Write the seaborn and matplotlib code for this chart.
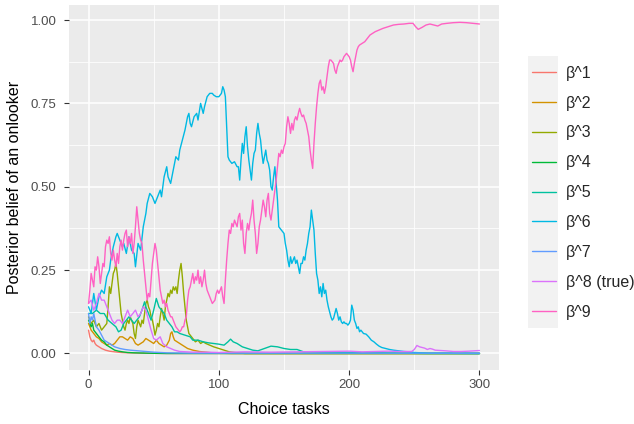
import matplotlib
matplotlib.use("Agg")
import matplotlib.pyplot as plt
from matplotlib.lines import Line2D
from matplotlib.patches import Rectangle
import pandas as pd
import seaborn as sns

# ---- data: posterior belief per candidate beta over choice tasks ----
labels = ["β^1", "β^2", "β^3", "β^4", "β^5", "β^6", "β^7", "β^8 (true)", "β^9"]
colors = ["#F8766D", "#D39200", "#93AA00", "#00BA38", "#00C19F",
          "#00B9E3", "#619CFF", "#DB72FB", "#FF61C3"]

b1_t = [0, 1, 2, 3, 4, 5, 6, 8, 10, 13, 16, 20, 25, 30, 40, 60, 300]
b1_v = [0.07, 0.05, 0.04, 0.035, 0.04, 0.03, 0.025, 0.02, 0.015, 0.01, 0.007,
        0.005, 0.003, 0.002, 0.001, 0.0, 0.0]

b2_t = [0, 2, 4, 6, 8, 10, 12, 14, 16, 18, 20, 22, 24, 26, 28, 30, 32, 34, 36,
        38, 40, 42, 44, 46, 48, 50, 52, 54, 56, 58, 60, 62, 63, 64, 65, 66, 68,
        70, 72, 74, 76, 80, 85, 90, 95, 100, 110, 300]
b2_v = [0.09, 0.07, 0.06, 0.05, 0.045, 0.035, 0.03, 0.025, 0.03, 0.025, 0.03,
        0.04, 0.05, 0.05, 0.045, 0.04, 0.05, 0.045, 0.03, 0.025, 0.03, 0.035,
        0.045, 0.04, 0.035, 0.03, 0.04, 0.03, 0.025, 0.02, 0.025, 0.04, 0.06,
        0.065, 0.05, 0.04, 0.035, 0.03, 0.025, 0.02, 0.015, 0.01, 0.006, 0.004,
        0.002, 0.001, 0.0, 0.0]

b3_t = [0, 2, 4, 6, 8, 10, 12, 14, 15, 16, 17, 18, 19, 20, 21, 22, 23, 24, 25,
        26, 27, 28, 29, 30, 31, 32, 33, 34, 35, 36, 37, 38, 39, 40, 41, 42, 43,
        44, 45, 46, 47, 48, 49, 50, 51, 52, 53, 54, 55, 56, 57, 58, 59, 60, 61,
        62, 63, 64, 65, 66, 67, 68, 69, 70, 71, 72, 73, 74, 75, 76, 77, 78, 80,
        82, 84, 86, 88, 90, 93, 96, 100, 104, 108, 112, 120, 300]
b3_v = [0.11, 0.09, 0.10, 0.08, 0.09, 0.07, 0.08, 0.09, 0.14, 0.20, 0.18, 0.21,
        0.24, 0.25, 0.27, 0.24, 0.20, 0.16, 0.12, 0.10, 0.08, 0.07, 0.09, 0.10,
        0.09, 0.11, 0.10, 0.09, 0.06, 0.045, 0.08, 0.10, 0.09, 0.08, 0.10, 0.09,
        0.12, 0.15, 0.16, 0.14, 0.13, 0.11, 0.10, 0.08, 0.055, 0.07, 0.09, 0.08,
        0.11, 0.135, 0.12, 0.10, 0.14, 0.16, 0.18, 0.17, 0.19, 0.18, 0.20, 0.19,
        0.20, 0.18, 0.22, 0.25, 0.27, 0.23, 0.18, 0.14, 0.10, 0.08, 0.06, 0.055,
        0.045, 0.035, 0.04, 0.03, 0.035, 0.03, 0.025, 0.02, 0.015, 0.01, 0.005,
        0.003, 0.0, 0.0]

b4_t = [0, 1, 2, 3, 4, 6, 8, 10, 12, 14, 16, 18, 20, 23, 26, 30, 35, 45, 60, 300]
b4_v = [0.10, 0.09, 0.08, 0.09, 0.07, 0.06, 0.05, 0.04, 0.035, 0.025, 0.02,
        0.015, 0.01, 0.007, 0.005, 0.003, 0.002, 0.001, 0.0, 0.0]

b5_t = [0, 3, 6, 9, 12, 15, 18, 21, 23, 25, 27, 29, 31, 33, 35, 37, 39, 41, 43,
        44, 46, 48, 50, 52, 54, 56, 58, 60, 62, 64, 66, 68, 70, 74, 78, 80, 84,
        88, 92, 96, 100, 104, 107, 109, 111, 114, 118, 122, 126, 130, 135, 140,
        145, 150, 155, 160, 165, 170, 180, 190, 200, 220, 240, 260, 300]
b5_v = [0.12, 0.12, 0.13, 0.12, 0.12, 0.10, 0.09, 0.08, 0.065, 0.07, 0.09, 0.10,
        0.11, 0.10, 0.09, 0.10, 0.11, 0.13, 0.155, 0.14, 0.12, 0.10, 0.13, 0.165,
        0.14, 0.13, 0.12, 0.10, 0.09, 0.08, 0.065, 0.065, 0.06, 0.055, 0.05,
        0.04, 0.04, 0.035, 0.032, 0.03, 0.028, 0.025, 0.035, 0.043, 0.035, 0.03,
        0.02, 0.015, 0.01, 0.008, 0.015, 0.022, 0.02, 0.015, 0.012, 0.012, 0.005,
        0.005, 0.004, 0.004, 0.003, 0.002, 0.001, 0.0, 0.0]

b6_t = [0, 2, 4, 6, 8, 10, 12, 14, 16, 17, 19, 21, 22, 24, 26, 27, 29, 31, 33,
        35, 36, 38, 40, 42, 44, 45, 47, 49, 51, 53, 55, 56, 58, 60, 61, 63, 65,
        67, 69, 70, 72, 74, 76, 77, 78, 79, 81, 83, 84, 86, 88, 89, 91, 93, 95,
        96, 98, 100, 102, 103, 104, 105, 106, 107, 108, 110, 112, 114, 115, 116,
        117, 118, 119, 120, 121, 122, 123, 124, 125, 126, 127, 128, 129, 130,
        131, 132, 133, 134, 135, 136, 137, 138, 139, 140, 141, 142, 143, 144,
        145, 146, 148, 150, 151, 152, 153, 154, 155, 156, 157, 158, 159, 160,
        161, 162, 163, 164, 165, 166, 167, 168, 169, 170, 171, 172, 173, 174,
        175, 176, 177, 178, 179, 180, 181, 182, 183, 184, 185, 186, 187, 188,
        189, 190, 191, 192, 193, 194, 195, 196, 197, 198, 199, 200, 201, 202,
        203, 204, 205, 206, 207, 208, 209, 211, 213, 215, 217, 219, 221, 223,
        225, 228, 231, 234, 238, 242, 246, 250, 255, 260, 300]
b6_v = [0.14, 0.12, 0.18, 0.13, 0.17, 0.19, 0.18, 0.23, 0.25, 0.28, 0.32, 0.35,
        0.36, 0.34, 0.32, 0.33, 0.30, 0.35, 0.31, 0.30, 0.26, 0.33, 0.31, 0.38,
        0.42, 0.45, 0.48, 0.47, 0.45, 0.47, 0.49, 0.47, 0.53, 0.56, 0.53, 0.51,
        0.55, 0.59, 0.58, 0.61, 0.64, 0.67, 0.71, 0.72, 0.69, 0.68, 0.71, 0.72,
        0.70, 0.75, 0.72, 0.74, 0.77, 0.78, 0.78, 0.775, 0.77, 0.77, 0.78, 0.80,
        0.79, 0.77, 0.68, 0.59, 0.58, 0.57, 0.575, 0.56, 0.56, 0.52, 0.58, 0.63,
        0.60, 0.65, 0.68, 0.62, 0.58, 0.55, 0.52, 0.57, 0.60, 0.61, 0.66, 0.69,
        0.66, 0.64, 0.60, 0.57, 0.59, 0.61, 0.58, 0.57, 0.55, 0.50, 0.49, 0.53,
        0.56, 0.51, 0.46, 0.38, 0.37, 0.36, 0.33, 0.31, 0.28, 0.26, 0.29, 0.27,
        0.28, 0.29, 0.27, 0.28, 0.26, 0.24, 0.27, 0.27, 0.29, 0.28, 0.31, 0.33,
        0.36, 0.38, 0.43, 0.40, 0.37, 0.30, 0.24, 0.22, 0.18, 0.20, 0.17, 0.21,
        0.18, 0.19, 0.16, 0.14, 0.125, 0.11, 0.10, 0.105, 0.12, 0.135, 0.12,
        0.10, 0.11, 0.095, 0.09, 0.095, 0.09, 0.09, 0.085, 0.09, 0.10, 0.145,
        0.13, 0.10, 0.09, 0.075, 0.08, 0.065, 0.07, 0.06, 0.058, 0.05, 0.04,
        0.035, 0.028, 0.022, 0.018, 0.015, 0.012, 0.01, 0.008, 0.006, 0.005,
        0.003, 0.002, 0.001, 0.0]

b7_t = [0, 1, 2, 3, 4, 5, 6, 8, 10, 12, 14, 16, 18, 20, 24, 28, 32, 38, 44, 50,
        60, 80, 300]
b7_v = [0.12, 0.09, 0.11, 0.10, 0.12, 0.10, 0.08, 0.07, 0.055, 0.04, 0.035,
        0.03, 0.025, 0.02, 0.015, 0.012, 0.01, 0.008, 0.006, 0.004, 0.002,
        0.001, 0.001]

b8_t = [0, 2, 4, 6, 8, 10, 12, 14, 16, 18, 20, 22, 24, 26, 28, 30, 32, 34, 36,
        38, 40, 42, 44, 46, 48, 50, 52, 55, 57, 60, 63, 66, 70, 80, 90, 100,
        110, 120, 140, 160, 180, 200, 210, 220, 230, 240, 248, 250, 252, 254,
        256, 258, 260, 262, 264, 266, 270, 274, 280, 286, 292, 296, 300]
b8_v = [0.15, 0.16, 0.13, 0.15, 0.18, 0.16, 0.16, 0.14, 0.12, 0.10, 0.09, 0.10,
        0.10, 0.09, 0.11, 0.13, 0.11, 0.12, 0.13, 0.11, 0.12, 0.14, 0.13, 0.10,
        0.07, 0.045, 0.04, 0.05, 0.03, 0.02, 0.015, 0.01, 0.006, 0.004, 0.004,
        0.003, 0.004, 0.005, 0.004, 0.005, 0.006, 0.007, 0.005, 0.006, 0.007,
        0.006, 0.006, 0.012, 0.024, 0.02, 0.018, 0.016, 0.012, 0.015, 0.013,
        0.01, 0.009, 0.008, 0.006, 0.006, 0.007, 0.008, 0.009]

b9_t = list(range(0, 209)) + [210, 212, 214, 216, 218, 220, 223, 226, 230,
                              234, 238, 242, 246, 249, 251, 253, 256, 259,
                              262, 265, 268, 271, 275, 280, 285, 290, 295, 300]
b9_v = [0.15, 0.19, 0.24, 0.22, 0.20, 0.26, 0.25, 0.29, 0.26, 0.21,
        0.24, 0.27, 0.26, 0.32, 0.34, 0.33, 0.35, 0.30, 0.28, 0.31,
        0.28, 0.26, 0.30, 0.27, 0.32, 0.34, 0.31, 0.34, 0.36, 0.37,
        0.32, 0.35, 0.33, 0.36, 0.30, 0.33, 0.38, 0.44, 0.40, 0.36,
        0.34, 0.33, 0.28, 0.24, 0.20, 0.16, 0.18, 0.17, 0.22, 0.27,
        0.30, 0.33, 0.31, 0.27, 0.23, 0.19, 0.17, 0.15, 0.16, 0.14,
        0.15, 0.13, 0.12, 0.11, 0.11, 0.10, 0.09, 0.08, 0.075, 0.07,
        0.065, 0.07, 0.08, 0.08, 0.10, 0.11, 0.16, 0.19, 0.20, 0.22,
        0.24, 0.21, 0.23, 0.22, 0.25, 0.21, 0.23, 0.20, 0.22, 0.25,
        0.21, 0.19, 0.18, 0.17, 0.16, 0.15, 0.155, 0.16, 0.18, 0.19,
        0.18, 0.19, 0.20, 0.17, 0.15, 0.22, 0.28, 0.33, 0.37, 0.36,
        0.39, 0.38, 0.40, 0.39, 0.38, 0.41, 0.42, 0.37, 0.40, 0.33,
        0.30, 0.36, 0.39, 0.37, 0.40, 0.42, 0.46, 0.40, 0.36, 0.30,
        0.33, 0.38, 0.40, 0.43, 0.46, 0.44, 0.41, 0.46, 0.48, 0.42,
        0.40, 0.43, 0.46, 0.49, 0.52, 0.56, 0.60, 0.59, 0.61, 0.60,
        0.62, 0.63, 0.68, 0.71, 0.69, 0.66, 0.69, 0.67, 0.70, 0.71,
        0.70, 0.72, 0.735, 0.72, 0.71, 0.715, 0.70, 0.69, 0.67, 0.65,
        0.61, 0.58, 0.555, 0.63, 0.69, 0.74, 0.78, 0.81, 0.82, 0.79,
        0.80, 0.78, 0.80, 0.83, 0.86, 0.88, 0.88, 0.875, 0.87, 0.85,
        0.84, 0.86, 0.87, 0.88, 0.875, 0.88, 0.89, 0.895, 0.90, 0.895,
        0.89, 0.88, 0.86, 0.845, 0.87, 0.89, 0.91, 0.92, 0.925,
        0.93, 0.935, 0.945, 0.955, 0.96, 0.965, 0.97, 0.975, 0.98,
        0.985, 0.987, 0.988, 0.99, 0.99, 0.98, 0.972, 0.978, 0.985,
        0.988, 0.985, 0.982, 0.988, 0.99, 0.992, 0.993, 0.992, 0.99, 0.988]

series_t = [b1_t, b2_t, b3_t, b4_t, b5_t, b6_t, b7_t, b8_t, b9_t]
series_v = [b1_v, b2_v, b3_v, b4_v, b5_v, b6_v, b7_v, b8_v, b9_v]

frames = []
for lab, ts, vs in zip(labels, series_t, series_v):
    frames.append(pd.DataFrame({"task": ts, "belief": vs, "beta": lab}))
df = pd.concat(frames, ignore_index=True)

# ---- styling (grey panel, white grid) ----
sns.set_theme(style="darkgrid")
plt.rcParams["font.family"] = ["Liberation Sans", "DejaVu Sans"]

W, H = 634, 424
fig = plt.figure(figsize=(W / 100, H / 100), dpi=100)
ax = fig.add_axes([69 / W, 1 - 370 / H, 430 / W, 365 / H])
ax.set_facecolor("#EBEBEB")

sns.lineplot(data=df, x="task", y="belief", hue="beta", hue_order=labels,
             palette=colors, estimator=None, linewidth=1.0, legend=False,
             ax=ax)

ax.set_xlim(-15, 315)
ax.set_ylim(-0.0495, 1.045)
ax.set_xticks([0, 100, 200, 300])
ax.set_xticks([50, 150, 250], minor=True)
ax.set_yticks([0, 0.25, 0.5, 0.75, 1.0])
ax.set_yticklabels(["0.00", "0.25", "0.50", "0.75", "1.00"])
ax.set_yticks([0.125, 0.375, 0.625, 0.875], minor=True)
ax.grid(which="major", color="white", linewidth=1.1)
ax.grid(which="minor", color="white", linewidth=0.55)
for sp in ax.spines.values():
    sp.set_visible(False)
ax.tick_params(which="major", length=3.5, width=0.8, color="#333333",
               labelcolor="#4D4D4D", labelsize=9.5, pad=3,
               bottom=True, left=True)
ax.tick_params(axis="y", which="major", pad=5.5)
ax.tick_params(which="minor", length=0)
ax.set_xlabel("Choice tasks", fontsize=11.5, color="black", labelpad=8)
ax.set_ylabel("Posterior belief of an onlooker", fontsize=11.5,
              color="black", labelpad=6)

# legend with a light key column
fig.patches.append(Rectangle((528 / W, 1 - 328 / H), 30 / W, 272 / H,
                             transform=fig.transFigure, facecolor="#F2F2F2",
                             edgecolor="none", zorder=0))
handles = [Line2D([0], [0], color=c, lw=1.0) for c in colors]
fig.legend(handles, labels, loc="upper left",
           bbox_to_anchor=(527 / W, 1 - 61 / H), frameon=False,
           fontsize=11.5, handlelength=1.5, handletextpad=0.65,
           labelspacing=0.93, borderpad=0.3, borderaxespad=0)

fig.savefig("out.png", dpi=100)
